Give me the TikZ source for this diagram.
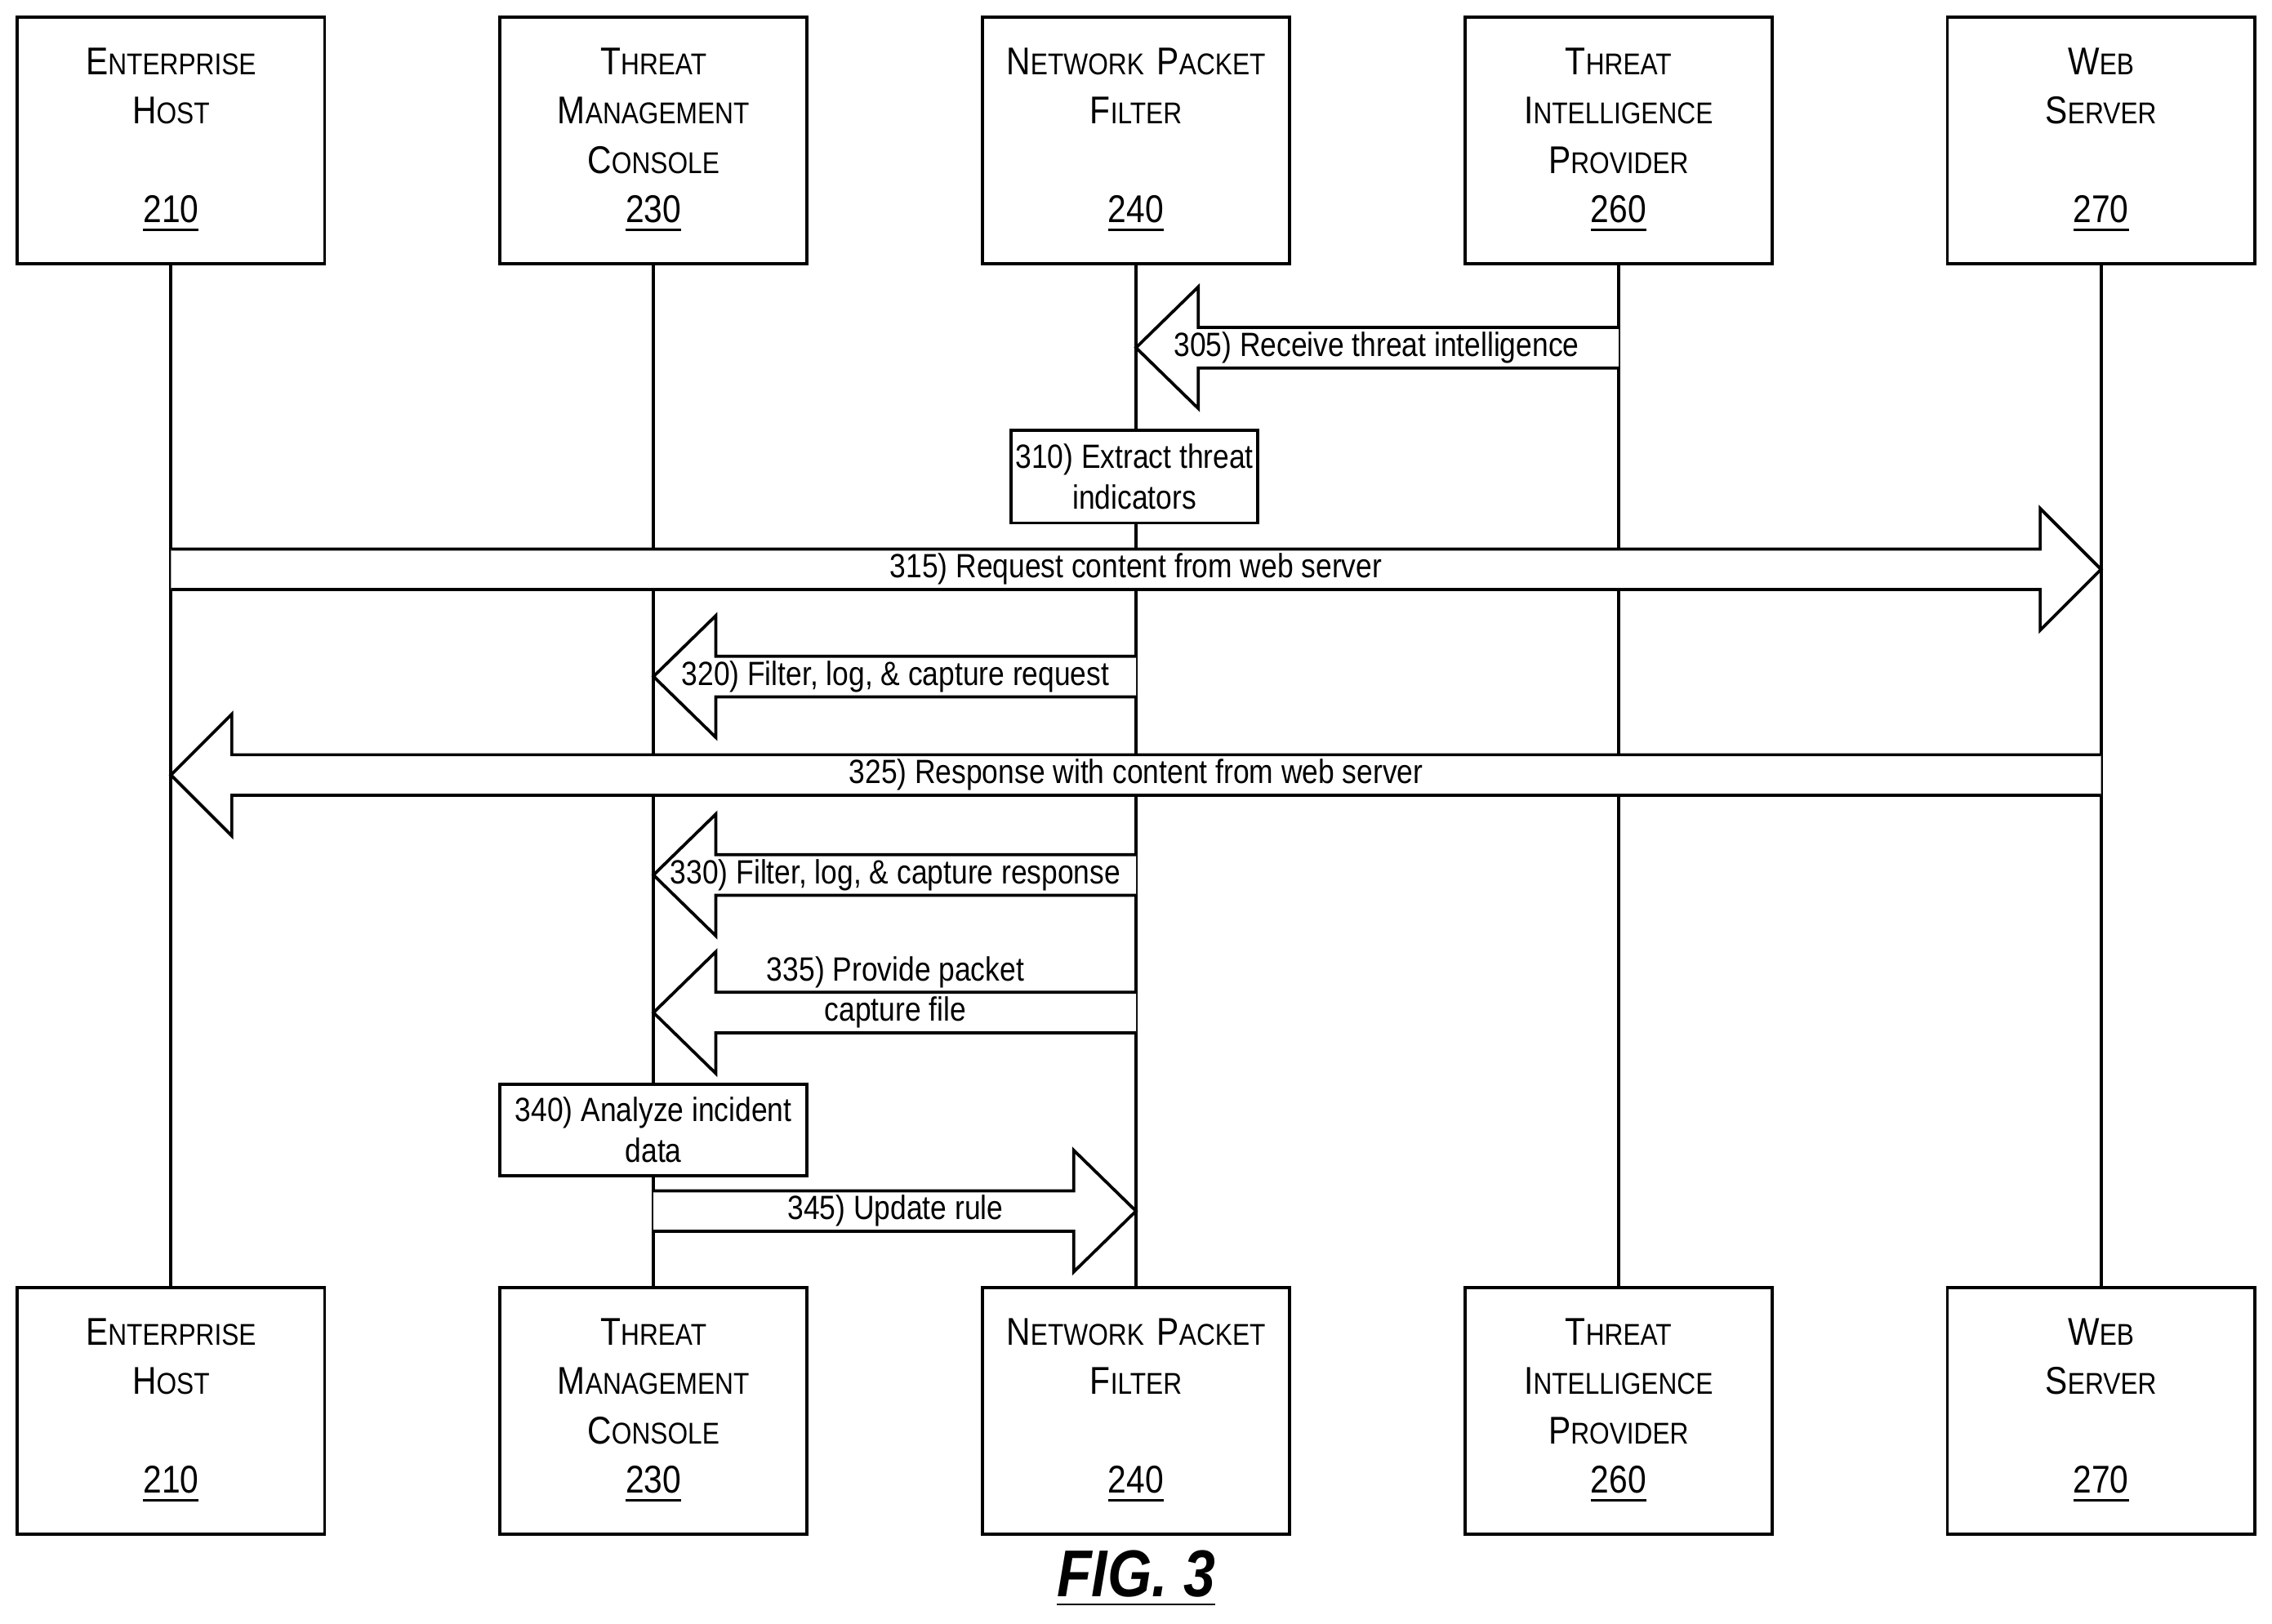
\documentclass[tikz,border=0pt]{standalone}
\usepackage{fontspec}
\setmainfont{Liberation Sans}[FakeStretch=0.86]
\newcommand\SCx[2]{#1{\fontsize{5.9}{9.65}\selectfont #2}}
\newcommand\blockarrow[4]{%
\draw[fill=white] (#1,#3-14) -- (#4,#3-14) -- (#4,#3-42) -- (#2,#3) -- (#4,#3+42) -- (#4,#3+14) -- (#1,#3+14);}
\begin{document}
\begin{tikzpicture}[x=0.01cm,y=-0.01cm,line width=0.6pt,
  every node/.style={font=\fontsize{7.6}{9.65}\selectfont},
  ent/.style={draw,minimum width=2.12cm,minimum height=1.70cm,align=center,fill=white,inner sep=0pt,text width=2.1cm},
  lbl/.style={font=\fontsize{6.6}{8}\selectfont,inner sep=1pt},
  actbox/.style={draw,fill=white,align=center,font=\fontsize{6.6}{8}\selectfont,inner sep=0pt}]
\useasboundingbox (0,0) rectangle (1568,1121);
\foreach \x/\n in {118/a,451/b,784/c,1117/d,1450/e}{
  \coordinate (t\n) at (\x,182); \coordinate (b\n) at (\x,889);
  \draw (t\n) -- (b\n);}
\newcommand\boxes[1]{%
\node[ent] (#1a) at (118,#1) {\SCx{E}{NTERPRISE}\\\SCx{H}{OST}\\\mbox{}\\\underline{210}};
\node[ent] (#1b) at (451,#1) {\SCx{T}{HREAT}\\\SCx{M}{ANAGEMENT}\\\SCx{C}{ONSOLE}\\\underline{230}};
\node[ent] (#1c) at (784,#1) {\SCx{N}{ETWORK} \SCx{P}{ACKET}\\\SCx{F}{ILTER}\\\mbox{}\\\underline{240}};
\node[ent] (#1d) at (1117,#1) {\SCx{T}{HREAT}\\\SCx{I}{NTELLIGENCE}\\\SCx{P}{ROVIDER}\\\underline{260}};
\node[ent] (#1e) at (1450,#1) {\SCx{W}{EB}\\\SCx{S}{ERVER}\\\mbox{}\\\underline{270}};}
\boxes{97}
\boxes{974}
\blockarrow{1117}{784}{240}{827}
\node[lbl] (l305) at (950,240) {305) Receive threat intelligence};
\node[actbox,minimum width=1.70cm,minimum height=0.64cm] (s310) at (783,329) {310) Extract threat\\indicators};
\blockarrow{118}{1450}{393}{1408}
\node[lbl] (l315) at (784,393) {315) Request content from web server};
\blockarrow{784}{451}{467}{494}
\node[lbl] (l320) at (618,467) {320) Filter, log, \& capture request};
\blockarrow{1450}{118}{535}{160}
\node[lbl] (l325) at (784,535) {325) Response with content from web server};
\blockarrow{784}{451}{604}{494}
\node[lbl] (l330) at (618,604) {330) Filter, log, \& capture response};
\blockarrow{784}{451}{699}{494}
\node[lbl] (l335a) at (618,671) {335) Provide packet};
\node[lbl] (l335b) at (618,699) {capture file};
\node[actbox,minimum width=2.12cm,minimum height=0.63cm] (s340) at (451,780) {340) Analyze incident\\data};
\blockarrow{451}{784}{836}{741}
\node[lbl] (l345) at (618,836) {345) Update rule};
\node[font=\fontsize{13}{14}\selectfont\bfseries\itshape] (fig) at (784,1090) {\underline{FIG. 3}};
\end{tikzpicture}
\end{document}
